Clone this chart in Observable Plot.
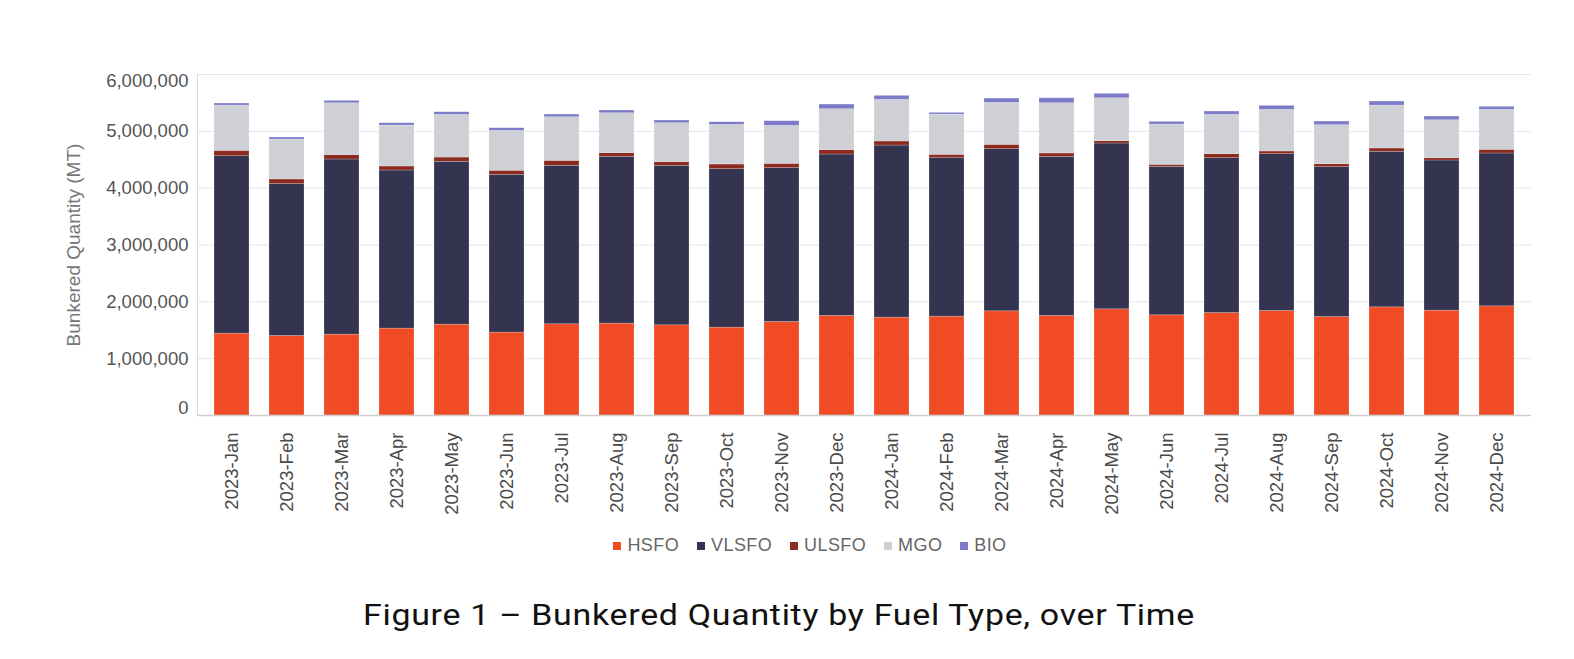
<!DOCTYPE html>
<html>
<head>
<meta charset="utf-8">
<script src="https://cdn.jsdelivr.net/npm/d3@7"></script>
<script src="https://cdn.jsdelivr.net/npm/@observablehq/plot@0.6"></script>
<style>
  html, body { margin: 0; padding: 0; background: #fff; }
  #wrap { position: relative; width: 1574px; height: 659px; }
  #legend { position: absolute; top: 535px; left: 0; width: 1574px; display: flex; justify-content: center; padding-left: 46px; box-sizing: border-box;
            font-family: "Liberation Sans", Arial, sans-serif; font-size: 18px; letter-spacing: 0.4px; color: #666; }
  #legend .item { display: flex; align-items: center; margin: 0 9px; }
  #legend .sw { width: 8px; height: 8px; margin-right: 6px; }
  #title { position: absolute; top: 598px; left: 363px; white-space: nowrap;
           font-family: Roboto, "Noto Sans", sans-serif; font-size: 29px; color: #111; }
  #titletext { display: inline-block; transform-origin: 0 50%; letter-spacing: 0.6px; }
</style>
</head>
<body>
<div id="wrap">
  <div id="chart"></div>
  <div id="legend"></div>
  <div id="title"><span id="titletext">Figure 1 – Bunkered Quantity by Fuel Type, over Time</span></div>
</div>
<script>
const months = ["2023-Jan","2023-Feb","2023-Mar","2023-Apr","2023-May","2023-Jun","2023-Jul","2023-Aug","2023-Sep","2023-Oct","2023-Nov","2023-Dec",
                "2024-Jan","2024-Feb","2024-Mar","2024-Apr","2024-May","2024-Jun","2024-Jul","2024-Aug","2024-Sep","2024-Oct","2024-Nov","2024-Dec"];
const fuels = ["HSFO","VLSFO","ULSFO","MGO","BIO"];
const fuelColors = ["#F04B24","#343450","#8B2A1E","#CFD0D5","#7B7BC8"];

const HSFO  = [1441000,1399000,1423000,1529000,1599000,1459000,1605000,1617000,1587000,1546000,1646000,1751000,
               1722000,1740000,1833000,1751000,1868000,1763000,1803000,1839000,1733000,1903000,1845000,1921000];
const VLSFO = [3121000,2672000,3081000,2782000,2865000,2776000,2788000,2935000,2806000,2788000,2706000,2841000,
               3028000,2787000,2853000,2801000,2918000,2613000,2724000,2759000,2636000,2737000,2642000,2689000];
const ULSFO = [95000,82000,76000,70000,75000,71000,88000,63000,64000,82000,76000,76000,
               71000,60000,76000,58000,40000,35000,71000,47000,53000,58000,40000,65000];
const MGO   = [796000,703000,914000,721000,751000,702000,767000,703000,686000,698000,668000,721000,
               732000,708000,739000,884000,756000,709000,692000,733000,686000,755000,668000,703000];
const BIO   = [36000,35000,42000,41000,46000,47000,47000,48000,47000,46000,82000,82000,
               71000,30000,75000,88000,77000,47000,58000,70000,64000,71000,65000,53000];
const yTicks = [0,1000000,2000000,3000000,4000000,5000000,6000000];
const yLabel = "Bunkered Quantity (MT)";

const series = {HSFO, VLSFO, ULSFO, MGO, BIO};
const data = months.flatMap((m, i) => fuels.map(f => ({month: m, fuel: f, value: series[f][i]})));
const fmt = d3.format(",");
const yMid = yTicks.slice(1, -1);
const yFirst = [yTicks[0]];
const yLast = [yTicks[yTicks.length - 1]];

const chart = Plot.plot({
  width: 1574,
  height: 520,
  marginTop: 74,
  marginBottom: 105,
  marginLeft: 197,
  marginRight: 43,
  style: {fontFamily: '"Liberation Sans", Arial, sans-serif', fontSize: "18.5px", color: "#555", background: "#fff"},
  x: {domain: months, paddingInner: 0.36, paddingOuter: 0.18, label: null},
  y: {domain: [0, 6000000], label: null},
  color: {domain: fuels, range: fuelColors},
  marks: [
    Plot.gridY(yTicks, {stroke: "#e6e6e6", strokeOpacity: 1}),
    Plot.frame({anchor: "left", stroke: "#dcdcdc"}),
    Plot.barY(data, {x: "month", y: "value", fill: "fuel", stroke: "#fff", strokeOpacity: 0.35, strokeWidth: 0.6}),
    Plot.ruleY([0], {stroke: "#cfcfcf", strokeWidth: 1.5}),
    Plot.axisY(yMid, {tickSize: 0, tickPadding: 9, tickFormat: fmt, label: null, fill: "#555"}),
    Plot.axisY(yLast, {tickSize: 0, tickPadding: 9, tickFormat: fmt, label: null, fill: "#555", dy: 7}),
    Plot.axisY(yFirst, {tickSize: 0, tickPadding: 9, tickFormat: fmt, label: null, fill: "#555", dy: -7}),
    Plot.axisX({tickSize: 0, tickPadding: 17, tickRotate: -90, label: null, fill: "#4a4a4a"}),
    Plot.text([yLabel], {frameAnchor: "left", textAnchor: "middle", dx: -124, rotate: -90, fill: "#777", fontSize: 19})
  ]
});
document.getElementById("chart").appendChild(chart);

const legend = document.getElementById("legend");
fuels.forEach((f, i) => {
  const item = document.createElement("div");
  item.className = "item";
  const sw = document.createElement("span");
  sw.className = "sw";
  sw.style.background = fuelColors[i];
  const t = document.createElement("span");
  t.textContent = f;
  item.appendChild(sw);
  item.appendChild(t);
  legend.appendChild(item);
});

// widen the title glyphs to the reference's width
const tt = document.getElementById("titletext");
const targetW = 832;
const w = tt.getBoundingClientRect().width;
tt.style.transform = "scaleX(" + (targetW / w) + ")";
</script>
</body>
</html>
